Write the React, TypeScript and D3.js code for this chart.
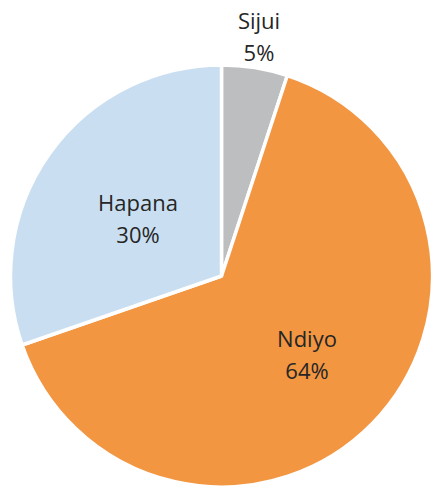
import React from "react";
import * as d3 from "d3";

const categories = ["Sijui", "Ndiyo", "Hapana"];
const values = [5, 64, 30];
const labels = ["5%", "64%", "30%"];
const colors = ["#BDBEC0", "#F39642", "#C9DFF1"];

export default function App() {
  const W = 434, H = 487;
  const cx = 221.5, cy = 276, r = 211;
  const pie = d3.pie<number>().sort(null).value((d) => d);
  const arcs = pie(values);
  const arc = d3.arc<d3.PieArcDatum<number>>().innerRadius(0).outerRadius(r);
  // label anchor: x center, baseline of first line (absolute page coords)
  const labelPos: [number, number][] = [
    [259, 29],
    [307, 347],
    [138, 211],
  ];
  return (
    <svg width={W} height={H} style={{ position: "absolute", left: 0, top: 0 }}>
      <g transform={`translate(${cx},${cy})`}>
        {arcs.map((a, i) => (
          <path key={i} d={arc(a) || ""} fill={colors[i]} stroke="#fff" strokeWidth={3.5} strokeLinejoin="round" />
        ))}
      </g>
      {arcs.map((a, i) => (
        <text key={"t" + i} textAnchor="middle"
          fontFamily="'Open Sans', sans-serif" fontSize={22} fill="#262626">
          <tspan x={labelPos[i][0]} y={labelPos[i][1]}>{categories[i]}</tspan>
          <tspan x={labelPos[i][0]} y={labelPos[i][1] + 32}>{labels[i]}</tspan>
        </text>
      ))}
    </svg>
  );
}
